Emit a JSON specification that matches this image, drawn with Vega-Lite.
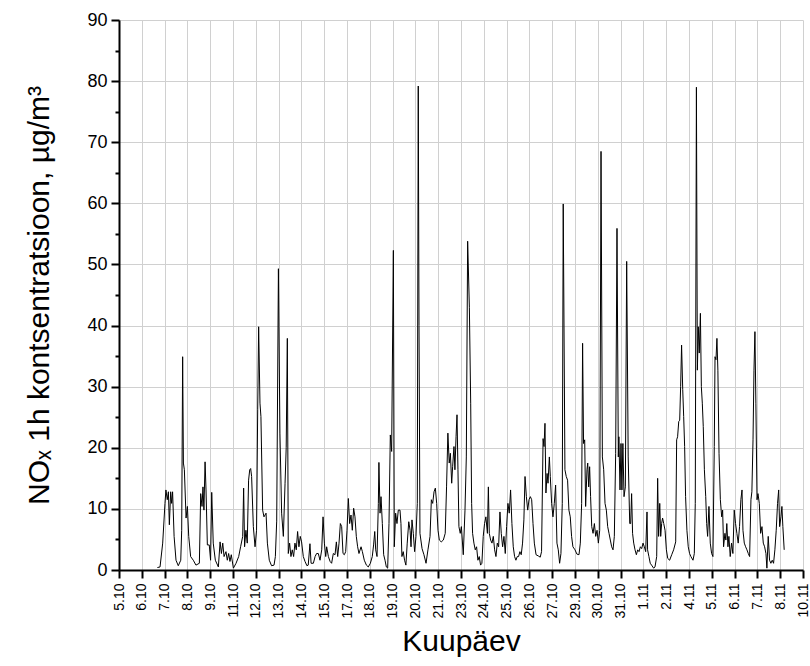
{
  "$schema": "https://vega.github.io/schema/vega-lite/v6.json",
  "autosize": {"type": "none"},
  "width": 684,
  "height": 550,
  "padding": {"left": 119, "top": 20, "right": 7, "bottom": 96},
  "background": "white",
  "config": {
    "view": {"stroke": null},
    "font": "Liberation Sans, Arial, DejaVu Sans",
    "axis": {"labelFont": "Liberation Sans, Arial, DejaVu Sans", "titleFont": "Liberation Sans, Arial, DejaVu Sans"}
  },
  "data": {
    "values": [
      {"t": 2.02, "v": 0.4}, {"t": 2.16, "v": 0.5}, {"t": 2.30, "v": 4.4}, {"t": 2.42, "v": 10.9}, {"t": 2.47, "v": 13.1},
      {"t": 2.54, "v": 11.5}, {"t": 2.60, "v": 12.8}, {"t": 2.65, "v": 7.4}, {"t": 2.72, "v": 12.8}, {"t": 2.77, "v": 10.9},
      {"t": 2.82, "v": 12.8}, {"t": 2.90, "v": 5.5}, {"t": 3.00, "v": 1.6}, {"t": 3.12, "v": 0.7}, {"t": 3.25, "v": 1.6},
      {"t": 3.30, "v": 6.5}, {"t": 3.35, "v": 34.9}, {"t": 3.39, "v": 17.5}, {"t": 3.44, "v": 16.4}, {"t": 3.53, "v": 8.5},
      {"t": 3.60, "v": 10.4}, {"t": 3.67, "v": 5.5}, {"t": 3.77, "v": 2.2}, {"t": 3.91, "v": 1.6}, {"t": 4.05, "v": 0.8},
      {"t": 4.23, "v": 1.1}, {"t": 4.30, "v": 12.5}, {"t": 4.37, "v": 10.4}, {"t": 4.42, "v": 13.6}, {"t": 4.47, "v": 9.8},
      {"t": 4.53, "v": 17.7}, {"t": 4.58, "v": 13.1}, {"t": 4.65, "v": 4.1}, {"t": 4.75, "v": 4.1}, {"t": 4.82, "v": 1.6},
      {"t": 4.88, "v": 12.7}, {"t": 4.96, "v": 4.4}, {"t": 5.07, "v": 1.6}, {"t": 5.23, "v": 0.5}, {"t": 5.32, "v": 4.6},
      {"t": 5.39, "v": 2.7}, {"t": 5.46, "v": 4.4}, {"t": 5.53, "v": 2.2}, {"t": 5.63, "v": 3.0}, {"t": 5.70, "v": 1.6},
      {"t": 5.77, "v": 2.7}, {"t": 5.84, "v": 1.4}, {"t": 5.91, "v": 2.5}, {"t": 6.02, "v": 0.3}, {"t": 6.16, "v": 1.1},
      {"t": 6.30, "v": 2.2}, {"t": 6.40, "v": 3.8}, {"t": 6.51, "v": 5.5}, {"t": 6.56, "v": 13.4}, {"t": 6.61, "v": 3.8},
      {"t": 6.68, "v": 6.5}, {"t": 6.75, "v": 4.4}, {"t": 6.82, "v": 14.7}, {"t": 6.88, "v": 16.4}, {"t": 6.93, "v": 16.6},
      {"t": 6.98, "v": 15.3}, {"t": 7.07, "v": 7.1}, {"t": 7.16, "v": 3.8}, {"t": 7.24, "v": 6.5}, {"t": 7.30, "v": 26.2},
      {"t": 7.35, "v": 39.8}, {"t": 7.42, "v": 27.3}, {"t": 7.47, "v": 25.1}, {"t": 7.56, "v": 9.8}, {"t": 7.63, "v": 8.7},
      {"t": 7.74, "v": 9.3}, {"t": 7.81, "v": 4.4}, {"t": 7.91, "v": 1.6}, {"t": 8.03, "v": 0.7}, {"t": 8.16, "v": 0.8},
      {"t": 8.23, "v": 2.2}, {"t": 8.30, "v": 8.0}, {"t": 8.39, "v": 49.3}, {"t": 8.47, "v": 22.4}, {"t": 8.56, "v": 9.3},
      {"t": 8.65, "v": 5.5}, {"t": 8.74, "v": 14.2}, {"t": 8.80, "v": 20.0}, {"t": 8.86, "v": 37.9}, {"t": 8.91, "v": 2.7},
      {"t": 8.98, "v": 4.4}, {"t": 9.05, "v": 2.2}, {"t": 9.12, "v": 3.3}, {"t": 9.19, "v": 2.2}, {"t": 9.26, "v": 4.4},
      {"t": 9.33, "v": 3.3}, {"t": 9.40, "v": 6.3}, {"t": 9.47, "v": 3.8}, {"t": 9.54, "v": 5.5}, {"t": 9.61, "v": 4.6},
      {"t": 9.70, "v": 2.2}, {"t": 9.79, "v": 1.4}, {"t": 9.89, "v": 0.7}, {"t": 9.96, "v": 0.8}, {"t": 10.05, "v": 4.3},
      {"t": 10.11, "v": 1.1}, {"t": 10.23, "v": 1.1}, {"t": 10.32, "v": 2.2}, {"t": 10.40, "v": 2.7}, {"t": 10.49, "v": 2.7},
      {"t": 10.58, "v": 1.6}, {"t": 10.67, "v": 3.3}, {"t": 10.74, "v": 8.7}, {"t": 10.81, "v": 4.4}, {"t": 10.88, "v": 2.2},
      {"t": 10.93, "v": 3.8}, {"t": 11.02, "v": 2.2}, {"t": 11.11, "v": 1.4}, {"t": 11.19, "v": 1.1}, {"t": 11.28, "v": 2.7},
      {"t": 11.37, "v": 2.5}, {"t": 11.44, "v": 4.6}, {"t": 11.51, "v": 2.2}, {"t": 11.58, "v": 4.4}, {"t": 11.65, "v": 7.6},
      {"t": 11.72, "v": 7.1}, {"t": 11.79, "v": 2.7}, {"t": 11.86, "v": 2.5}, {"t": 11.93, "v": 3.0}, {"t": 12.00, "v": 6.5},
      {"t": 12.07, "v": 11.7}, {"t": 12.14, "v": 7.6}, {"t": 12.21, "v": 9.0}, {"t": 12.28, "v": 6.5}, {"t": 12.35, "v": 10.1},
      {"t": 12.42, "v": 8.7}, {"t": 12.49, "v": 5.5}, {"t": 12.56, "v": 3.8}, {"t": 12.63, "v": 2.7}, {"t": 12.74, "v": 3.8},
      {"t": 12.81, "v": 3.0}, {"t": 12.91, "v": 1.6}, {"t": 13.02, "v": 0.8}, {"t": 13.12, "v": 0.5}, {"t": 13.23, "v": 1.1},
      {"t": 13.33, "v": 2.2}, {"t": 13.40, "v": 4.1}, {"t": 13.46, "v": 6.3}, {"t": 13.51, "v": 3.3}, {"t": 13.58, "v": 2.2},
      {"t": 13.65, "v": 10.9}, {"t": 13.68, "v": 17.6}, {"t": 13.74, "v": 9.3}, {"t": 13.79, "v": 12.0}, {"t": 13.86, "v": 7.6},
      {"t": 13.93, "v": 2.5}, {"t": 14.00, "v": 1.6}, {"t": 14.07, "v": 0.5}, {"t": 14.14, "v": 0.3}, {"t": 14.21, "v": 7.6},
      {"t": 14.28, "v": 22.1}, {"t": 14.35, "v": 19.4}, {"t": 14.44, "v": 52.3}, {"t": 14.49, "v": 3.8}, {"t": 14.56, "v": 9.3},
      {"t": 14.63, "v": 7.6}, {"t": 14.70, "v": 9.8}, {"t": 14.79, "v": 9.8}, {"t": 14.84, "v": 7.6}, {"t": 14.89, "v": 2.2},
      {"t": 14.96, "v": 3.0}, {"t": 15.03, "v": 1.6}, {"t": 15.10, "v": 0.8}, {"t": 15.17, "v": 4.4}, {"t": 15.25, "v": 7.9},
      {"t": 15.32, "v": 6.5}, {"t": 15.37, "v": 3.8}, {"t": 15.42, "v": 8.2}, {"t": 15.49, "v": 6.0}, {"t": 15.56, "v": 3.0},
      {"t": 15.63, "v": 5.5}, {"t": 15.70, "v": 10.9}, {"t": 15.75, "v": 79.2}, {"t": 15.79, "v": 40.0}, {"t": 15.84, "v": 6.0},
      {"t": 15.95, "v": 3.5}, {"t": 16.05, "v": 2.5}, {"t": 16.16, "v": 1.1}, {"t": 16.26, "v": 3.3}, {"t": 16.37, "v": 5.5},
      {"t": 16.44, "v": 11.5}, {"t": 16.51, "v": 10.9}, {"t": 16.58, "v": 12.8}, {"t": 16.65, "v": 13.4}, {"t": 16.72, "v": 10.9},
      {"t": 16.79, "v": 6.5}, {"t": 16.86, "v": 4.9}, {"t": 16.96, "v": 4.6}, {"t": 17.07, "v": 4.9}, {"t": 17.17, "v": 6.0},
      {"t": 17.24, "v": 13.6}, {"t": 17.31, "v": 22.4}, {"t": 17.38, "v": 17.5}, {"t": 17.44, "v": 19.1}, {"t": 17.51, "v": 14.2},
      {"t": 17.56, "v": 16.9}, {"t": 17.63, "v": 20.2}, {"t": 17.68, "v": 16.4}, {"t": 17.74, "v": 21.8}, {"t": 17.79, "v": 25.4},
      {"t": 17.84, "v": 16.4}, {"t": 17.89, "v": 7.1}, {"t": 17.96, "v": 6.0}, {"t": 18.02, "v": 7.1}, {"t": 18.12, "v": 2.5},
      {"t": 18.21, "v": 9.8}, {"t": 18.28, "v": 18.5}, {"t": 18.35, "v": 53.8}, {"t": 18.44, "v": 43.0}, {"t": 18.51, "v": 27.3},
      {"t": 18.56, "v": 10.9}, {"t": 18.61, "v": 6.0}, {"t": 18.68, "v": 4.4}, {"t": 18.75, "v": 3.3}, {"t": 18.82, "v": 3.8},
      {"t": 18.89, "v": 1.6}, {"t": 18.96, "v": 2.2}, {"t": 19.03, "v": 0.8}, {"t": 19.10, "v": 1.1}, {"t": 19.17, "v": 5.5},
      {"t": 19.24, "v": 7.6}, {"t": 19.31, "v": 8.7}, {"t": 19.39, "v": 6.0}, {"t": 19.44, "v": 13.6}, {"t": 19.49, "v": 6.0},
      {"t": 19.56, "v": 4.9}, {"t": 19.63, "v": 4.4}, {"t": 19.70, "v": 5.5}, {"t": 19.77, "v": 3.3}, {"t": 19.84, "v": 2.2},
      {"t": 19.91, "v": 4.4}, {"t": 19.98, "v": 3.8}, {"t": 20.05, "v": 9.5}, {"t": 20.12, "v": 6.0}, {"t": 20.19, "v": 3.8},
      {"t": 20.26, "v": 5.5}, {"t": 20.33, "v": 2.7}, {"t": 20.40, "v": 7.1}, {"t": 20.47, "v": 10.9}, {"t": 20.54, "v": 9.3},
      {"t": 20.61, "v": 13.1}, {"t": 20.68, "v": 7.6}, {"t": 20.75, "v": 3.8}, {"t": 20.82, "v": 2.2}, {"t": 20.89, "v": 1.6},
      {"t": 20.96, "v": 2.2}, {"t": 21.03, "v": 2.2}, {"t": 21.10, "v": 3.0}, {"t": 21.17, "v": 2.5}, {"t": 21.24, "v": 4.4},
      {"t": 21.31, "v": 8.2}, {"t": 21.37, "v": 15.3}, {"t": 21.44, "v": 12.0}, {"t": 21.51, "v": 9.8}, {"t": 21.58, "v": 11.5},
      {"t": 21.65, "v": 12.0}, {"t": 21.72, "v": 11.5}, {"t": 21.79, "v": 7.6}, {"t": 21.86, "v": 4.4}, {"t": 21.95, "v": 2.5},
      {"t": 22.07, "v": 2.3}, {"t": 22.17, "v": 2.1}, {"t": 22.24, "v": 3.0}, {"t": 22.32, "v": 21.5}, {"t": 22.37, "v": 20.2},
      {"t": 22.42, "v": 24.0}, {"t": 22.47, "v": 12.6}, {"t": 22.53, "v": 15.8}, {"t": 22.58, "v": 14.2}, {"t": 22.65, "v": 18.5},
      {"t": 22.70, "v": 15.3}, {"t": 22.77, "v": 10.9}, {"t": 22.84, "v": 8.7}, {"t": 22.91, "v": 10.9}, {"t": 22.98, "v": 13.9},
      {"t": 23.05, "v": 4.4}, {"t": 23.12, "v": 3.3}, {"t": 23.19, "v": 1.1}, {"t": 23.26, "v": 2.7}, {"t": 23.33, "v": 10.9},
      {"t": 23.38, "v": 59.9}, {"t": 23.47, "v": 16.4}, {"t": 23.54, "v": 15.3}, {"t": 23.61, "v": 14.7}, {"t": 23.68, "v": 9.8},
      {"t": 23.75, "v": 8.7}, {"t": 23.82, "v": 5.5}, {"t": 23.89, "v": 3.8}, {"t": 24.00, "v": 3.3}, {"t": 24.10, "v": 2.6},
      {"t": 24.21, "v": 2.5}, {"t": 24.28, "v": 4.4}, {"t": 24.35, "v": 10.9}, {"t": 24.40, "v": 37.1}, {"t": 24.45, "v": 20.7},
      {"t": 24.51, "v": 21.3}, {"t": 24.56, "v": 10.4}, {"t": 24.63, "v": 16.4}, {"t": 24.67, "v": 17.5}, {"t": 24.72, "v": 13.6},
      {"t": 24.77, "v": 16.9}, {"t": 24.82, "v": 12.0}, {"t": 24.88, "v": 7.1}, {"t": 24.95, "v": 6.0}, {"t": 25.02, "v": 7.6},
      {"t": 25.09, "v": 5.5}, {"t": 25.16, "v": 6.5}, {"t": 25.23, "v": 4.4}, {"t": 25.30, "v": 6.5}, {"t": 25.37, "v": 68.5},
      {"t": 25.44, "v": 18.5}, {"t": 25.51, "v": 16.4}, {"t": 25.58, "v": 10.9}, {"t": 25.65, "v": 9.8}, {"t": 25.72, "v": 7.1},
      {"t": 25.79, "v": 6.0}, {"t": 25.86, "v": 4.9}, {"t": 25.93, "v": 3.8}, {"t": 26.00, "v": 3.3}, {"t": 26.07, "v": 5.5},
      {"t": 26.14, "v": 19.1}, {"t": 26.21, "v": 55.9}, {"t": 26.28, "v": 18.5}, {"t": 26.31, "v": 21.8}, {"t": 26.37, "v": 13.1},
      {"t": 26.42, "v": 20.7}, {"t": 26.47, "v": 13.1}, {"t": 26.52, "v": 20.7}, {"t": 26.58, "v": 12.0}, {"t": 26.65, "v": 13.6},
      {"t": 26.72, "v": 50.5}, {"t": 26.80, "v": 18.5}, {"t": 26.88, "v": 7.6}, {"t": 26.93, "v": 7.6}, {"t": 26.98, "v": 12.5},
      {"t": 27.03, "v": 6.0}, {"t": 27.09, "v": 4.4}, {"t": 27.16, "v": 3.3}, {"t": 27.23, "v": 2.5}, {"t": 27.30, "v": 3.3},
      {"t": 27.37, "v": 3.0}, {"t": 27.44, "v": 3.8}, {"t": 27.51, "v": 3.5}, {"t": 27.58, "v": 4.4}, {"t": 27.65, "v": 3.8},
      {"t": 27.72, "v": 3.0}, {"t": 27.79, "v": 9.5}, {"t": 27.82, "v": 3.3}, {"t": 27.89, "v": 2.2}, {"t": 27.96, "v": 1.1},
      {"t": 28.03, "v": 0.8}, {"t": 28.14, "v": 0.3}, {"t": 28.21, "v": 0.5}, {"t": 28.30, "v": 2.2}, {"t": 28.35, "v": 15.0},
      {"t": 28.40, "v": 5.5}, {"t": 28.46, "v": 10.9}, {"t": 28.51, "v": 5.5}, {"t": 28.56, "v": 7.6}, {"t": 28.61, "v": 8.5},
      {"t": 28.67, "v": 7.6}, {"t": 28.74, "v": 6.5}, {"t": 28.81, "v": 3.3}, {"t": 28.88, "v": 1.9}, {"t": 28.98, "v": 1.6},
      {"t": 29.09, "v": 2.5}, {"t": 29.19, "v": 3.3}, {"t": 29.30, "v": 4.6}, {"t": 29.35, "v": 21.3}, {"t": 29.40, "v": 21.8},
      {"t": 29.46, "v": 24.3}, {"t": 29.51, "v": 24.5}, {"t": 29.56, "v": 30.0}, {"t": 29.61, "v": 36.8}, {"t": 29.67, "v": 29.5},
      {"t": 29.72, "v": 25.1}, {"t": 29.77, "v": 20.2}, {"t": 29.82, "v": 12.0}, {"t": 29.89, "v": 6.5}, {"t": 29.96, "v": 3.8},
      {"t": 30.03, "v": 2.7}, {"t": 30.10, "v": 2.2}, {"t": 30.21, "v": 1.6}, {"t": 30.28, "v": 2.7}, {"t": 30.33, "v": 10.9},
      {"t": 30.39, "v": 79.0}, {"t": 30.44, "v": 32.7}, {"t": 30.49, "v": 39.8}, {"t": 30.54, "v": 35.5}, {"t": 30.60, "v": 42.0},
      {"t": 30.65, "v": 30.0}, {"t": 30.70, "v": 27.3}, {"t": 30.75, "v": 23.5}, {"t": 30.81, "v": 16.4}, {"t": 30.88, "v": 12.0},
      {"t": 30.93, "v": 7.6}, {"t": 30.98, "v": 5.5}, {"t": 31.05, "v": 10.4}, {"t": 31.12, "v": 4.4}, {"t": 31.19, "v": 2.7},
      {"t": 31.26, "v": 2.2}, {"t": 31.33, "v": 20.2}, {"t": 31.37, "v": 34.9}, {"t": 31.42, "v": 34.4}, {"t": 31.47, "v": 37.9},
      {"t": 31.52, "v": 32.7}, {"t": 31.58, "v": 19.1}, {"t": 31.65, "v": 11.5}, {"t": 31.72, "v": 8.7}, {"t": 31.77, "v": 9.8},
      {"t": 31.82, "v": 3.8}, {"t": 31.89, "v": 6.0}, {"t": 31.94, "v": 4.9}, {"t": 31.99, "v": 7.6}, {"t": 32.05, "v": 3.8},
      {"t": 32.10, "v": 5.5}, {"t": 32.17, "v": 2.2}, {"t": 32.24, "v": 4.4}, {"t": 32.31, "v": 2.7}, {"t": 32.38, "v": 9.8},
      {"t": 32.45, "v": 7.6}, {"t": 32.52, "v": 6.0}, {"t": 32.59, "v": 4.4}, {"t": 32.66, "v": 7.1}, {"t": 32.73, "v": 11.5},
      {"t": 32.79, "v": 13.1}, {"t": 32.84, "v": 6.5}, {"t": 32.91, "v": 4.4}, {"t": 32.98, "v": 3.8}, {"t": 33.05, "v": 3.3},
      {"t": 33.12, "v": 2.7}, {"t": 33.19, "v": 2.2}, {"t": 33.26, "v": 11.5}, {"t": 33.31, "v": 12.8}, {"t": 33.37, "v": 21.3},
      {"t": 33.42, "v": 32.7}, {"t": 33.47, "v": 39.0}, {"t": 33.52, "v": 27.3}, {"t": 33.58, "v": 11.5}, {"t": 33.63, "v": 12.5},
      {"t": 33.70, "v": 10.9}, {"t": 33.77, "v": 6.0}, {"t": 33.84, "v": 7.1}, {"t": 33.91, "v": 4.4}, {"t": 33.98, "v": 3.8},
      {"t": 34.05, "v": 2.7}, {"t": 34.10, "v": 0.3}, {"t": 34.17, "v": 5.5}, {"t": 34.24, "v": 1.6}, {"t": 34.31, "v": 1.1},
      {"t": 34.38, "v": 1.6}, {"t": 34.45, "v": 1.1}, {"t": 34.52, "v": 3.3}, {"t": 34.59, "v": 6.5}, {"t": 34.66, "v": 10.9},
      {"t": 34.72, "v": 13.1}, {"t": 34.77, "v": 7.1}, {"t": 34.84, "v": 8.7}, {"t": 34.89, "v": 10.4}, {"t": 34.94, "v": 7.1},
      {"t": 35.01, "v": 3.3}
    ]
  },
  "mark": {"type": "line", "color": "black", "strokeWidth": 1, "clip": true},
  "encoding": {
    "x": {
      "field": "t",
      "type": "quantitative",
      "scale": {"domain": [0, 36], "nice": false, "zero": false},
      "axis": {
        "title": "Kuupäev",
        "titleFontSize": 30,
        "titleFontWeight": "normal",
        "titleColor": "black",
        "titlePadding": 8,
        "values": [0, 1.2, 2.4, 3.6, 4.8, 6, 7.2, 8.4, 9.6, 10.8, 12, 13.2, 14.4, 15.6, 16.8, 18, 19.2, 20.4, 21.6, 22.8, 24, 25.2, 26.4, 27.6, 28.8, 30, 31.2, 32.4, 33.6, 34.8, 36],
        "labelExpr": "utcFormat(utc(2012, 9, 5) + datum.value * 86400000, '%-d.%-m')",
        "labelAngle": 270,
        "labelFontSize": 14,
        "labelColor": "black",
        "labelPadding": 5,
        "labelOverlap": false,
        "labelBound": false,
        "labelFlush": false,
        "domainColor": "black",
        "domainWidth": 2,
        "tickColor": "black",
        "tickWidth": 2,
        "tickSize": 8,
        "grid": true,
        "gridColor": "#d0d0d0",
        "gridWidth": 1
      }
    },
    "y": {
      "field": "v",
      "type": "quantitative",
      "scale": {"domain": [0, 90], "nice": false},
      "axis": {
        "title": "NOₓ 1h kontsentratsioon, µg/m³",
        "titleFontSize": 30,
        "titleFontWeight": "normal",
        "titleColor": "black",
        "titlePadding": 32,
        "values": [0, 5, 10, 15, 20, 25, 30, 35, 40, 45, 50, 55, 60, 65, 70, 75, 80, 85, 90],
        "labelExpr": "datum.value % 10 === 0 ? datum.label : ''",
        "labelFontSize": 18,
        "labelColor": "black",
        "labelPadding": 4,
        "labelOverlap": false,
        "labelBound": false,
        "labelFlush": false,
        "domainColor": "black",
        "domainWidth": 2,
        "tickColor": "black",
        "tickWidth": 2,
        "tickSize": {"condition": {"test": "datum.value % 10 === 0", "value": 8}, "value": 4},
        "grid": true,
        "gridColor": "#d0d0d0",
        "gridWidth": 1,
        "gridOpacity": {"condition": {"test": "datum.value % 10 === 0", "value": 1}, "value": 0}
      }
    }
  }
}
